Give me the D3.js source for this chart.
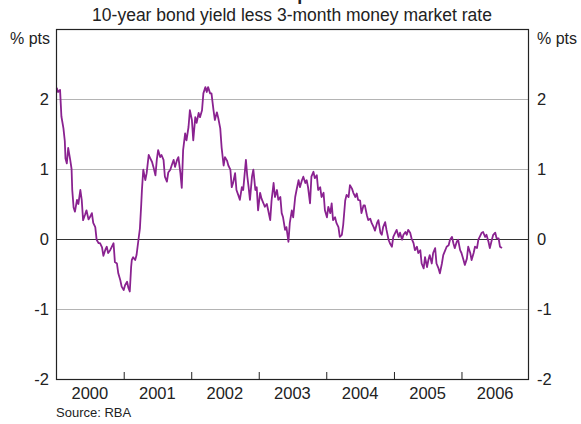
<!DOCTYPE html>
<html>
<head>
<meta charset="utf-8">
<script src="https://cdn.jsdelivr.net/npm/d3@7"></script>
<style>
  html, body { margin: 0; padding: 0; background: #fff; }
  text { font-family: "Liberation Sans", Arial, sans-serif; fill: #222; }
</style>
</head>
<body>
<svg id="chart" width="581" height="424"></svg>
<script>
// ---- data (decimal years, % points) ----
const times = [
2000.01,2000.03,2000.06,2000.08,2000.11,2000.13,2000.14,2000.16,2000.18,2000.21,2000.23,2000.24,2000.26,2000.28,2000.31,2000.33,2000.36,2000.38,2000.40,2000.43,2000.45,2000.48,2000.50,2000.53,2000.55,2000.58,2000.60,2000.63,2000.65,2000.68,2000.70,2000.73,2000.75,2000.77,2000.80,2000.82,2000.85,2000.87,2000.90,2000.92,2000.95,2000.97,
2001.00,2001.02,2001.05,2001.07,2001.09,2001.11,2001.12,2001.14,2001.17,2001.19,2001.22,2001.24,2001.26,2001.27,2001.29,2001.32,2001.34,2001.37,2001.39,2001.42,2001.44,2001.47,2001.49,2001.51,2001.54,2001.56,2001.59,2001.61,2001.64,2001.66,2001.69,2001.71,2001.74,2001.76,2001.79,2001.81,2001.84,2001.86,2001.88,2001.91,2001.93,2001.96,2001.98,
2002.01,2002.03,2002.06,2002.08,2002.11,2002.13,2002.16,2002.18,2002.21,2002.23,2002.25,2002.28,2002.30,2002.33,2002.35,2002.38,2002.40,2002.43,2002.45,2002.48,2002.50,2002.53,2002.55,2002.58,2002.60,2002.62,2002.65,2002.67,2002.70,2002.72,2002.75,2002.77,2002.81,2002.83,2002.85,2002.87,2002.90,2002.92,2002.95,2002.97,2002.99,
2003.02,2003.04,2003.07,2003.09,2003.12,2003.14,2003.17,2003.19,2003.22,2003.24,2003.27,2003.29,2003.32,2003.34,2003.36,2003.39,2003.41,2003.44,2003.46,2003.49,2003.51,2003.54,2003.56,2003.59,2003.61,2003.64,2003.66,2003.69,2003.71,2003.73,2003.76,2003.78,2003.81,2003.83,2003.86,2003.88,2003.91,2003.93,2003.96,2003.98,
2004.01,2004.03,2004.06,2004.08,2004.10,2004.13,2004.15,2004.18,2004.20,2004.23,2004.25,2004.28,2004.30,2004.33,2004.35,2004.38,2004.40,2004.43,2004.45,2004.47,2004.50,2004.52,2004.55,2004.57,2004.60,2004.62,2004.65,2004.67,2004.70,2004.72,2004.75,2004.77,2004.80,2004.82,2004.84,2004.87,2004.89,2004.92,2004.94,2004.97,2004.99,
2005.02,2005.04,2005.07,2005.09,2005.12,2005.14,2005.17,2005.19,2005.21,2005.24,2005.26,2005.29,2005.31,2005.34,2005.36,2005.39,2005.41,2005.44,2005.46,2005.49,2005.51,2005.53,2005.56,2005.58,2005.61,2005.63,2005.66,2005.68,2005.71,2005.73,2005.76,2005.78,2005.81,2005.83,2005.86,2005.88,2005.90,2005.93,2005.95,2005.98,
2006.00,2006.03,2006.05,2006.08,2006.10,2006.13,2006.15,2006.18,2006.20,2006.23,2006.25,2006.27,2006.30,2006.32,2006.35,2006.37,2006.40,2006.42,2006.45,2006.47,2006.50,2006.52,2006.55,2006.57,2006.60
];
const spread = [
2.16,2.10,2.13,1.75,1.58,1.40,1.15,1.08,1.30,1.13,1.00,0.70,0.45,0.39,0.56,0.50,0.70,0.56,0.27,0.35,0.41,0.28,0.31,0.37,0.23,0.17,-0.01,-0.06,-0.06,-0.12,-0.24,-0.15,-0.11,-0.20,-0.16,-0.12,-0.06,-0.33,-0.35,-0.49,-0.59,-0.68,
-0.73,-0.66,-0.61,-0.70,-0.75,-0.40,-0.30,-0.26,-0.30,-0.23,0.00,0.15,0.50,0.70,0.99,0.84,0.94,1.20,1.16,1.10,1.03,0.91,1.13,1.27,1.17,1.20,1.13,0.89,0.82,0.95,0.99,1.05,1.13,1.03,1.13,1.17,0.94,0.73,1.27,1.51,1.41,1.60,1.84,
1.70,1.41,1.74,1.66,1.80,1.74,1.84,2.08,2.17,2.10,2.17,2.08,2.08,1.84,1.70,1.81,1.73,1.58,1.31,1.05,1.17,1.12,1.05,0.99,0.74,0.80,0.94,0.70,0.62,0.56,0.74,0.70,1.13,0.90,0.74,0.56,0.89,0.99,0.70,0.74,0.41,
0.66,0.58,0.51,0.46,0.50,0.41,0.27,0.55,0.80,0.60,0.70,0.56,0.60,0.37,0.31,0.13,0.17,-0.04,0.23,0.41,0.31,0.60,0.70,0.84,0.74,0.84,0.89,0.80,0.84,0.74,0.51,0.89,0.96,0.87,0.91,0.70,0.74,0.60,0.66,0.41,
0.31,0.46,0.37,0.51,0.27,0.31,0.23,0.17,0.03,0.06,0.20,0.55,0.63,0.60,0.77,0.72,0.66,0.60,0.65,0.56,0.55,0.37,0.48,0.48,0.34,0.27,0.29,0.23,0.17,0.12,0.23,0.27,0.09,0.06,0.17,0.24,0.13,-0.01,-0.06,-0.11,0.03,
0.09,0.13,0.03,0.09,-0.01,0.06,0.10,0.06,0.13,0.09,0.01,-0.06,-0.16,-0.11,-0.20,-0.16,-0.35,-0.42,-0.26,-0.40,-0.30,-0.23,-0.35,-0.20,-0.13,-0.35,-0.42,-0.49,-0.35,-0.23,-0.16,-0.11,-0.09,-0.01,0.03,-0.06,-0.13,-0.04,-0.01,-0.16,
-0.20,-0.30,-0.37,-0.28,-0.11,-0.20,-0.30,-0.20,-0.11,-0.13,-0.01,0.03,0.09,0.10,0.03,0.06,-0.04,-0.13,-0.01,0.06,0.09,0.01,0.01,-0.11,-0.13
];
const yearLabels = ["2000","2001","2002","2003","2004","2005","2006"];
const yTicks = [-2,-1,0,1,2];
const titleText = "Yield Spread";
const subtitleText = "10-year bond yield less 3-month money market rate";
const unitText = "% pts";
const sourceText = "Source: RBA";

// ---- layout ----
const svg = d3.select("#chart");
const L = 56, R = 529, T = 29, B = 379;

function toDate(t) {
  const y = Math.floor(t);
  const start = new Date(y, 0, 1), end = new Date(y + 1, 0, 1);
  return new Date(+start + (t - y) * (end - start));
}
const data = times.map((t, i) => ({ date: toDate(t), v: spread[i] }));

const x = d3.scaleTime()
  .domain([new Date(+yearLabels[0], 0, 1), new Date(+yearLabels[yearLabels.length - 1] + 1, 0, 1)])
  .range([L, R]);
const y = d3.scaleLinear().domain([-2, 3]).range([B, T]);

// gridlines
svg.append("g").selectAll("line")
  .data(yTicks.filter(d => d !== 0 && d !== -2))
  .join("line")
  .attr("x1", L).attr("x2", R)
  .attr("y1", d => Math.round(y(d)) + 0.5).attr("y2", d => Math.round(y(d)) + 0.5)
  .attr("stroke", "#b4b4b4").attr("stroke-width", 1);

// zero line
svg.append("line")
  .attr("x1", L).attr("x2", R)
  .attr("y1", Math.round(y(0)) + 0.5).attr("y2", Math.round(y(0)) + 0.5)
  .attr("stroke", "#333").attr("stroke-width", 1.2);

// line
const line = d3.line().x(d => x(d.date)).y(d => y(d.v));
svg.append("path").datum(data)
  .attr("d", line)
  .attr("fill", "none")
  .attr("stroke", "#8a2290")
  .attr("stroke-width", 1.8)
  .attr("stroke-linejoin", "round");

// frame
svg.append("rect")
  .attr("x", L + 0.5).attr("y", T + 0.5)
  .attr("width", R - L - 1).attr("height", B - T)
  .attr("fill", "none").attr("stroke", "#222").attr("stroke-width", 1.2);

// bottom axis: ticks at year boundaries (inward), labels at mid-year
const yearStarts = yearLabels.slice(1).map(s => new Date(+s, 0, 1));
const xAxis = d3.axisBottom(x).tickValues(yearStarts).tickSize(-7).tickFormat("");
const gx = svg.append("g").attr("transform", `translate(0,${B})`).call(xAxis);
gx.select(".domain").remove();
gx.selectAll(".tick line").attr("stroke", "#222");

svg.append("g").selectAll("text")
  .data(yearLabels)
  .join("text")
  .attr("x", d => x(new Date(+d, 6, 2)))
  .attr("y", 399)
  .attr("text-anchor", "middle")
  .attr("font-size", 16.5)
  .text(d => d);

// y axes labels (hyphen-minus like the reference)
const fmt = d => String(d);
const yAxisL = d3.axisLeft(y).tickValues(yTicks).tickSize(0).tickPadding(7).tickFormat(fmt);
const gl = svg.append("g").attr("transform", `translate(${L},0)`).call(yAxisL);
gl.select(".domain").remove();
gl.selectAll("text").attr("font-size", 16.5).attr("font-family", "Liberation Sans, Arial, sans-serif").attr("fill", "#222");

const yAxisR = d3.axisRight(y).tickValues(yTicks).tickSize(0).tickPadding(8).tickFormat(fmt);
const gr = svg.append("g").attr("transform", `translate(${R},0)`).call(yAxisR);
gr.select(".domain").remove();
gr.selectAll("text").attr("font-size", 16.5).attr("font-family", "Liberation Sans, Arial, sans-serif").attr("fill", "#222");

// units
svg.append("text").attr("x", L - 6).attr("y", 44).attr("text-anchor", "end").attr("font-size", 16).text(unitText);
svg.append("text").attr("x", R + 8).attr("y", 44).attr("text-anchor", "start").attr("font-size", 16).text(unitText);

// titles (main title sits at the top edge, as in the reference)
svg.append("text").attr("x", 292).attr("y", 0).attr("text-anchor", "middle")
  .attr("font-size", 18).attr("font-weight", "bold").text(titleText);
svg.append("text").attr("x", 292).attr("y", 21).attr("text-anchor", "middle")
  .attr("font-size", 17.5).text(subtitleText);

// source
svg.append("text").attr("x", 56).attr("y", 417).attr("font-size", 13).text(sourceText);
</script>
</body>
</html>
